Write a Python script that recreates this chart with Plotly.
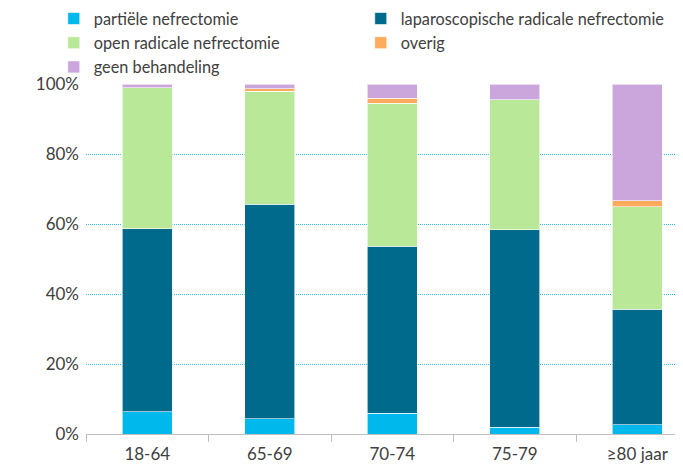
import plotly.graph_objects as go

# age groups and treatment shares (% of patients)
categories = ["18-64", "65-69", "70-74", "75-79", "≥80 jaar"]
partieel = [6.3, 4.3, 6.0, 2.0, 2.6]
laparoscopisch = [52.3, 61.4, 47.7, 56.3, 33.1]
open_radicaal = [40.3, 32.3, 40.8, 37.2, 29.2]
overig = [0.0, 0.7, 1.5, 0.0, 1.7]
geen = [1.1, 1.3, 4.0, 4.5, 33.4]

series = [
    ("partiële nefrectomie", partieel, "#00b8eb"),
    ("laparoscopische radicale nefrectomie", laparoscopisch, "#006a8d"),
    ("open radicale nefrectomie", open_radicaal, "#b9e899"),
    ("overig", overig, "#ffaa5c"),
    ("geen behandeling", geen, "#cba6dc"),
]

data = []
for name, values, color in series:
    data.append(go.Bar(
        x=categories, y=values, name=name, width=0.41,
        marker=dict(color=color, line=dict(color="rgba(255,255,255,0.6)", width=1)),
    ))

font = "Lato, 'Open Sans', sans-serif"

# the page has an 8px body margin, so the figure is sized to the visible area
layout = go.Layout(
    barmode="stack",
    width=675,
    height=459,
    margin=dict(l=78, r=0, t=76, b=33, autoexpand=False),
    plot_bgcolor="white",
    paper_bgcolor="white",
    font=dict(family=font, size=17, color="#404040"),
    showlegend=True,
    legend=dict(
        orientation="h", xref="paper", yref="paper",
        x=-0.054, y=1.236, xanchor="left", yanchor="top",
        traceorder="normal",
        entrywidth=262, entrywidthmode="pixels",
        itemwidth=30, tracegroupgap=0,
        font=dict(size=16.3, color="#404040"),
        bgcolor="rgba(0,0,0,0)",
    ),
    xaxis=dict(
        range=[-0.5, 4.373], showline=True, linecolor="#bfbfbf", linewidth=1,
        ticks="outside", tickson="boundaries", ticklen=7, tickcolor="#bfbfbf",
        showgrid=False, tickfont=dict(size=17), ticklabelstandoff=5,
    ),
    yaxis=dict(
        range=[0, 100], dtick=20, ticksuffix="%", showgrid=True,
        gridcolor="#33bde8", griddash="1px,1px", gridwidth=1, zeroline=False,
        ticklabelstandoff=6, tickfont=dict(size=17),
    ),
)

fig = go.Figure(data=data, layout=layout)
fig.write_html("out.html")
